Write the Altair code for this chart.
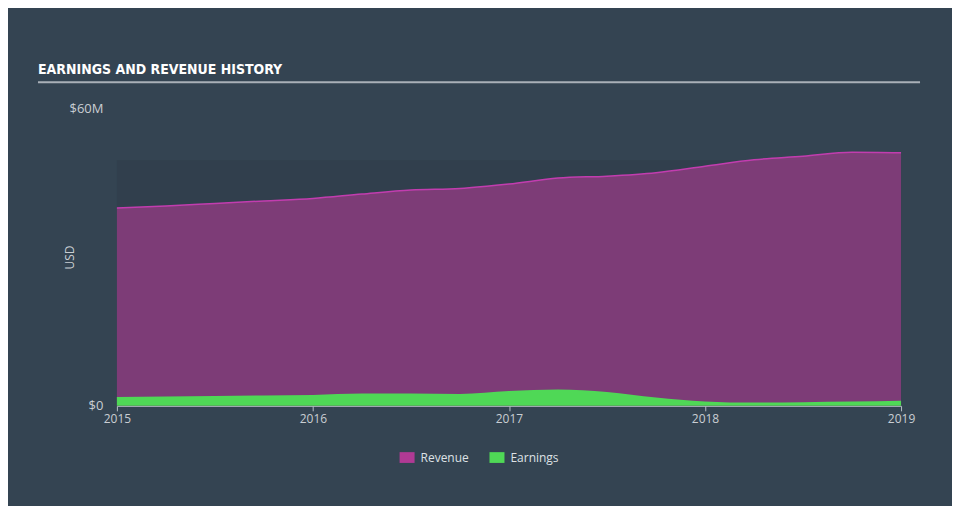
import altair as alt
import pandas as pd

# ---- data (values in $M, x in fractional years) ----
years = [2015.0, 2015.25, 2015.5, 2015.75, 2016.0, 2016.25, 2016.5, 2016.75,
         2017.0, 2017.25, 2017.5, 2017.75, 2018.0, 2018.25, 2018.5, 2018.75, 2019.0]
revenue = [39.9, 40.3, 40.8, 41.3, 41.8, 42.7, 43.5, 43.8,
           44.7, 45.9, 46.3, 47.0, 48.3, 49.6, 50.3, 51.1, 51.0]
earnings = [1.8, 1.9, 2.0, 2.1, 2.2, 2.5, 2.5, 2.4,
            3.0, 3.3, 2.8, 1.7, 0.9, 0.65, 0.72, 0.85, 1.05]
tick_years = [2015, 2016, 2017, 2018, 2019]
y_ticks = [0, 60]
series_names = ["Revenue", "Earnings"]
series_colors = ["#b03a94", "#4fd856"]
title_text = "EARNINGS AND REVENUE HISTORY"
past_region = {"x": [2015.0], "x2": [2019.0], "y": [0.0], "y2": [49.5]}

BG = "#344452"
PANEL = "#313f4d"
TEXT = "#c9ced3"

rev_df = pd.DataFrame({"year": years, "value": revenue, "series": "Revenue"})
earn_df = pd.DataFrame({"year": years, "value": earnings, "series": "Earnings"})
region_df = pd.DataFrame(past_region)

x_scale = alt.Scale(domain=[2015, 2019], nice=False, zero=False)
y_scale = alt.Scale(domain=[0, 60], nice=False)
color_scale = alt.Scale(domain=series_names, range=series_colors)

x_axis = alt.Axis(values=tick_years, format="d", title=None, grid=False,
                  labelColor=TEXT, labelFontSize=12, labelFont="Open Sans",
                  domainColor="#b7bec6", tickColor="#b7bec6", tickSize=5,
                  labelPadding=3, labelFlush=False)
y_axis = alt.Axis(values=y_ticks,
                  labelExpr="datum.value == 0 ? '$0' : '$' + datum.value + 'M'",
                  title="USD", titleColor=TEXT, titleFontSize=12,
                  titleFont="Open Sans", titleFontWeight="normal",
                  titleX=-40, titleY=149,
                  labelColor=TEXT, labelFontSize=13, labelFont="Open Sans",
                  domain=False, ticks=False, grid=False, labelPadding=14)

legend = alt.Legend(title=None, orient="none", direction="horizontal",
                    legendX=283, legendY=342,
                    labelColor="#dde1e5", labelFontSize=12, labelFont="Open Sans",
                    symbolType="M-1,-0.72H1V0.72H-1Z", symbolSize=225,
                    symbolOpacity=1, symbolStrokeWidth=0, columnPadding=20,
                    labelOffset=6)

region = alt.Chart(region_df).mark_rect(color=PANEL).encode(
    x=alt.X("x:Q", scale=x_scale, axis=x_axis), x2="x2:Q",
    y=alt.Y("y:Q", scale=y_scale, axis=y_axis), y2="y2:Q")

rev_area = alt.Chart(rev_df).mark_area(interpolate="monotone", fillOpacity=0.6).encode(
    x=alt.X("year:Q", scale=x_scale, axis=x_axis),
    y=alt.Y("value:Q", scale=y_scale, axis=y_axis),
    color=alt.Color("series:N", scale=color_scale, legend=legend))

rev_line = alt.Chart(rev_df).mark_line(interpolate="monotone", color="#c23daf",
                                       strokeWidth=1.5).encode(
    x=alt.X("year:Q", scale=x_scale, axis=x_axis),
    y=alt.Y("value:Q", scale=y_scale, axis=y_axis))

earn_area = alt.Chart(earn_df).mark_area(interpolate="monotone", opacity=1).encode(
    x=alt.X("year:Q", scale=x_scale, axis=x_axis),
    y=alt.Y("value:Q", scale=y_scale, axis=y_axis),
    color=alt.Color("series:N", scale=color_scale, legend=legend))

title = alt.Chart(pd.DataFrame({"t": [title_text]})).mark_text(
    align="left", baseline="alphabetic", font="DejaVu Sans Condensed",
    fontSize=14, fontWeight="bold", color="#ffffff").encode(
    x=alt.value(-79), y=alt.value(-34), text="t:N")

underline = alt.Chart(pd.DataFrame({"a": [0]})).mark_rule(
    color="#a9b0b8", strokeWidth=2).encode(
    x=alt.value(-79), x2=alt.value(804), y=alt.value(-26))

chart = alt.layer(region, rev_area, rev_line, earn_area, title, underline).resolve_axis(
    x="shared", y="shared").properties(
    width=785, height=298,
    padding={"left": 109, "top": 100, "right": 51, "bottom": 100},
    autosize=alt.AutoSizeParams(type="none"),
    background=BG,
).configure_view(stroke=None)

chart.save("out.html", embed_options={"renderer": "svg", "actions": False})
